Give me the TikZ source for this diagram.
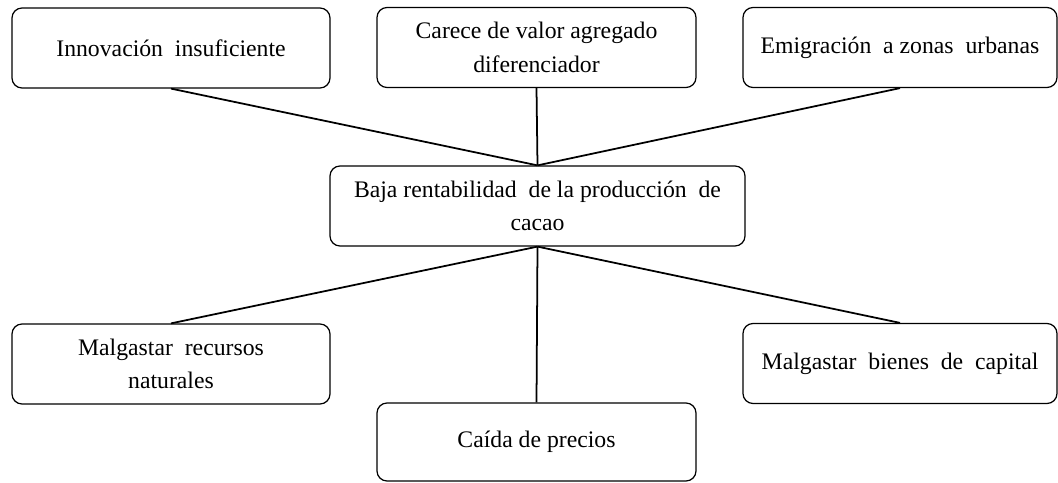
\documentclass[tikz,border=0pt]{standalone}
\usepackage{fontspec}
\setmainfont{Liberation Serif}

\begin{document}
\begin{tikzpicture}

      \useasboundingbox (0,0) rectangle (21.16,9.64);

      \begin{scope}[every node/.style={draw,rounded corners=0.2cm,line width=0.7pt,align=center,inner sep=0pt,minimum height=1.6cm,font=\fontsize{13.5}{19}\selectfont}]
        \node[minimum width=6.36cm] (1) at (3.42,8.68) {Innovación\ \ insuficiente};
        \node[minimum width=6.38cm] (2) at (10.73,8.69) {Carece de valor agregado\\diferenciador};
        \node[minimum width=6.28cm] (3) at (18.0,8.69) {Emigración\ \ a zonas\ \ urbanas};
        \node[minimum width=8.3cm] (4) at (10.75,5.52) {Baja rentabilidad\ \ de la producción\ \ de\\cacao};
        \node[minimum width=6.36cm] (5) at (3.42,2.36) {Malgastar\ \ recursos\\naturales};
        \node[minimum width=6.38cm,minimum height=1.56cm] (6) at (10.73,0.8) {Caída de precios};
        \node[minimum width=6.28cm] (7) at (18.0,2.37) {Malgastar\ \ bienes\ \ de\ \ capital};
      \end{scope}

      \begin{scope}[every edge/.style={draw,line width=1pt}]
        \path (1.south) edge (4.north);
        \path (2.south) edge (4.north);
        \path (3.south) edge (4.north);
        \path (4.south) edge (5.north);
        \path (4.south) edge (6.north);
        \path (4.south) edge (7.north);
      \end{scope}

    \end{tikzpicture}
\end{document}
